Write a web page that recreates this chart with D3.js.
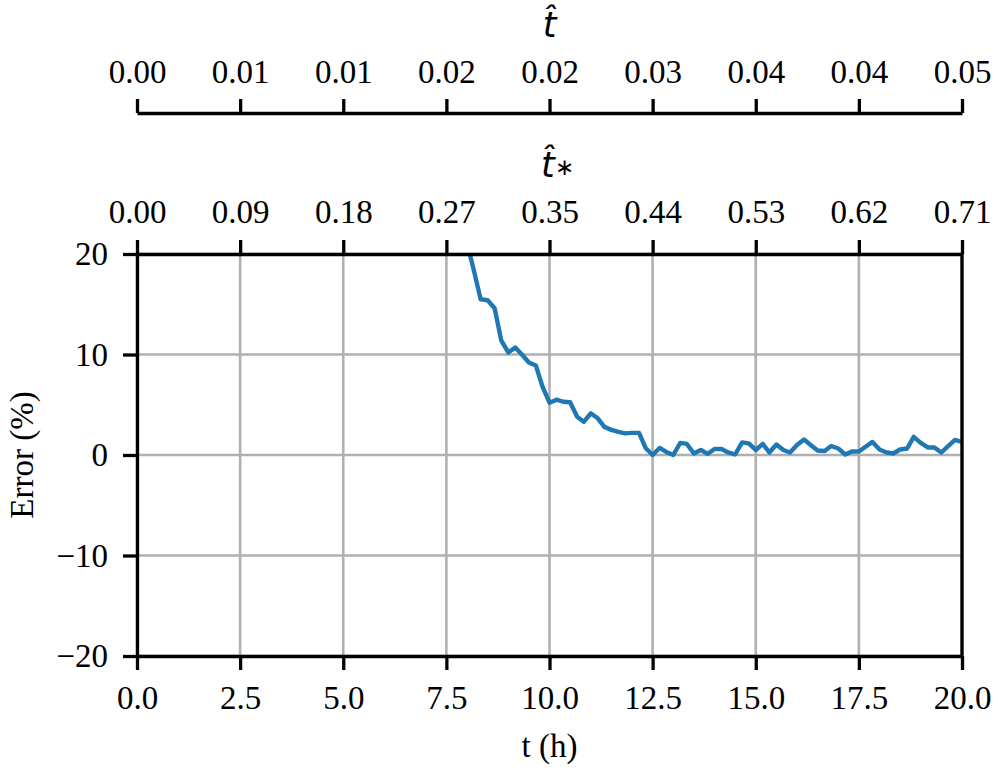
<!DOCTYPE html>
<html lang="en">
<head>
<meta charset="utf-8">
<title>Error vs time</title>
<script src="https://d3js.org/d3.v7.min.js"></script>
<style>
  body { margin: 0; background: #fff; }
  .tick text { font-family: "Liberation Serif", "Times New Roman", serif; font-size: 33px; fill: #000; }
</style>
</head>
<body>
<script>
// time (h), one sample every 10 min
var hours = [7.83, 8.00, 8.17, 8.33, 8.50, 8.67, 8.83, 9.00, 9.17, 9.33, 9.50, 9.67, 9.83,
  10.00, 10.17, 10.33, 10.50, 10.67, 10.83, 11.00, 11.17, 11.33, 11.50, 11.67, 11.83,
  12.00, 12.17, 12.33, 12.50, 12.67, 12.83, 13.00, 13.17, 13.33, 13.50, 13.67, 13.83,
  14.00, 14.17, 14.33, 14.50, 14.67, 14.83, 15.00, 15.17, 15.33, 15.50, 15.67, 15.83,
  16.00, 16.17, 16.33, 16.50, 16.67, 16.83, 17.00, 17.17, 17.33, 17.50, 17.67, 17.83,
  18.00, 18.17, 18.33, 18.50, 18.67, 18.83, 19.00, 19.17, 19.33, 19.50, 19.67, 19.83, 20.00];
var errorPct = [24.5, 21.1, 18.3, 15.5, 15.4, 14.6, 11.4, 10.2, 10.7, 10.0, 9.2, 8.9, 6.8,
  5.2, 5.5, 5.3, 5.25, 3.8, 3.3, 4.15, 3.65, 2.8, 2.5, 2.3, 2.15,
  2.2, 2.2, 0.7, 0.0, 0.7, 0.3, 0.0, 1.2, 1.1, 0.15, 0.5, 0.1,
  0.6, 0.6, 0.25, 0.05, 1.25, 1.15, 0.5, 1.1, 0.25, 1.05, 0.5, 0.25,
  1.0, 1.55, 1.0, 0.45, 0.4, 0.9, 0.65, 0.05, 0.35, 0.35, 0.85, 1.3,
  0.55, 0.25, 0.15, 0.55, 0.65, 1.8, 1.2, 0.75, 0.75, 0.25, 0.9, 1.5, 1.3];

var xTicks = [0, 2.5, 5, 7.5, 10, 12.5, 15, 17.5, 20];
var yTicks = [-20, -10, 0, 10, 20];
var tHatLabels = ["0.00", "0.01", "0.01", "0.02", "0.02", "0.03", "0.04", "0.04", "0.05"];
var tStarLabels = ["0.00", "0.09", "0.18", "0.27", "0.35", "0.44", "0.53", "0.62", "0.71"];

var w = 998, h = 772;
var plotLeft = 137, plotRight = 962, plotTop = 254, plotBottom = 656;

var svg = d3.select("body").append("svg")
  .attr("width", w)
  .attr("height", h);

var x = d3.scaleLinear().domain([0, 20]).range([plotLeft, plotRight]);
var y = d3.scaleLinear().domain([-20, 20]).range([plotBottom, plotTop]);

// grid
svg.append("g").selectAll("line")
  .data(xTicks)
  .enter().append("line")
  .attr("x1", function(d) { return x(d); })
  .attr("x2", function(d) { return x(d); })
  .attr("y1", plotTop).attr("y2", plotBottom)
  .attr("stroke", "#b0b0b0").attr("stroke-width", 2.6);
svg.append("g").selectAll("line")
  .data(yTicks)
  .enter().append("line")
  .attr("y1", function(d) { return y(d); })
  .attr("y2", function(d) { return y(d); })
  .attr("x1", plotLeft).attr("x2", plotRight)
  .attr("stroke", "#b0b0b0").attr("stroke-width", 2.6);

// data line
svg.append("clipPath").attr("id", "plot-clip")
  .append("rect")
  .attr("x", plotLeft).attr("y", plotTop)
  .attr("width", plotRight - plotLeft).attr("height", plotBottom - plotTop);

var line = d3.line()
  .x(function(d, i) { return x(hours[i]); })
  .y(function(d) { return y(d); });

svg.append("path")
  .datum(errorPct)
  .attr("clip-path", "url(#plot-clip)")
  .attr("fill", "none")
  .attr("stroke", "#1f77b4")
  .attr("stroke-width", 4.4)
  .attr("stroke-linejoin", "round")
  .attr("d", line);

// axes
function styleAxis(g) {
  g.select(".domain").attr("stroke", "#000").attr("stroke-width", 3.3);
  g.selectAll(".tick line").attr("stroke", "#000").attr("stroke-width", 3.3);
}

var fmtX = function(d) { return d.toFixed(1); };
svg.append("g")
  .attr("transform", "translate(0," + plotBottom + ")")
  .call(d3.axisBottom(x).tickValues(xTicks).tickFormat(fmtX)
    .tickSize(14).tickSizeOuter(0).tickPadding(16))
  .call(styleAxis);

svg.append("g")
  .attr("transform", "translate(" + plotLeft + ",0)")
  .call(d3.axisLeft(y).tickValues(yTicks)
    .tickFormat(function(d) { return d < 0 ? "\u2212" + Math.abs(d) : String(d); })
    .tickSize(14).tickSizeOuter(0).tickPadding(15))
  .call(styleAxis);

svg.append("line")
  .attr("x1", plotRight).attr("x2", plotRight)
  .attr("y1", plotTop).attr("y2", plotBottom)
  .attr("stroke", "#000").attr("stroke-width", 3.3);

svg.append("g")
  .attr("transform", "translate(0," + plotTop + ")")
  .call(d3.axisTop(x).tickValues(xTicks)
    .tickFormat(function(d, i) { return tStarLabels[i]; })
    .tickSize(14).tickSizeOuter(0).tickPadding(17))
  .call(styleAxis);

svg.append("g")
  .attr("transform", "translate(0,113)")
  .call(d3.axisTop(x).tickValues(xTicks)
    .tickFormat(function(d, i) { return tHatLabels[i]; })
    .tickSize(14).tickSizeOuter(0).tickPadding(16))
  .call(styleAxis);

// axis titles
svg.append("text")
  .attr("x", (plotLeft + plotRight) / 2).attr("y", 757)
  .attr("text-anchor", "middle")
  .style("font-family", "Liberation Serif, serif").style("font-size", "33px")
  .text("t (h)");

svg.append("text")
  .attr("transform", "translate(33," + y(0) + ") rotate(-90)")
  .attr("text-anchor", "middle")
  .style("font-family", "Liberation Serif, serif").style("font-size", "33px")
  .text("Error (%)");

svg.append("text")
  .attr("x", (plotLeft + plotRight) / 2).attr("y", 37)
  .attr("text-anchor", "middle")
  .style("font-family", "DejaVu Sans, sans-serif").style("font-style", "italic").style("font-size", "35px")
  .text("t\u0302");

var ts = svg.append("text")
  .attr("x", (plotLeft + plotRight) / 2 + 8).attr("y", 177)
  .attr("text-anchor", "middle")
  .style("font-family", "DejaVu Sans, sans-serif").style("font-size", "35px");
ts.append("tspan").style("font-style", "italic").text("t\u0302");
ts.append("tspan").attr("dy", -2).style("font-size", "23px").text("\u2217");
</script>
</body>
</html>
